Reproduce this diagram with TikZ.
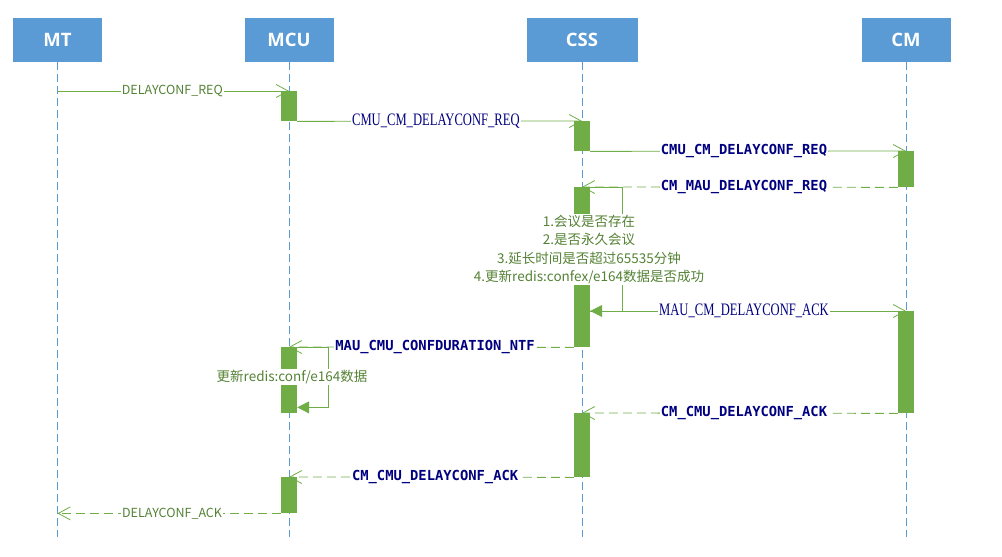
\documentclass[tikz,border=0pt]{standalone}
\usepackage{fontspec}
\usetikzlibrary{arrows.meta,calc}
\setmainfont{Open Sans}
\newfontfamily\cjk{Noto Sans CJK SC}
\newfontfamily\msgserif[FakeStretch=0.72]{Liberation Serif}
\newfontfamily\msgmono{DejaVu Sans Mono}
\definecolor{headblue}{HTML}{5B9BD5}
\definecolor{actgreen}{HTML}{70AD47}
\definecolor{txtgreen}{HTML}{548235}
\definecolor{msgnavy}{RGB}{0,0,128}
\pgfdeclarelayer{bg}
\pgfsetlayers{bg,main}
\begin{document}
\begin{tikzpicture}[x=1pt,y=-1pt,
  head/.style={fill=headblue, text=white, font=\fontsize{18.5}{20}\selectfont\bfseries,
    minimum height=44pt, inner sep=0pt},
  life/.style={draw=headblue, line width=0.9pt, dash pattern=on 8pt off 4pt},
  act/.style={fill=actgreen, draw=none, minimum width=16pt, inner sep=0pt, anchor=north},
  msg/.style={draw=actgreen, line width=0.8pt, -{Straight Barb[length=12pt,width=13pt]}},
  ret/.style={msg, dash pattern=on 9pt off 5pt},
  selfloop/.style={draw=actgreen, line width=0.8pt, -{Triangle[length=12pt,width=12pt]}},
  lblg/.style={fill=white, inner sep=1pt, text=txtgreen, font=\cjk\fontsize{12.5}{15}\selectfont},
  lbls/.style={fill=white, inner sep=1pt, text=msgnavy, font=\msgserif\fontsize{17.5}{18}\selectfont},
  lblb/.style={fill=white, inner sep=1pt, text=msgnavy, font=\msgmono\bfseries\fontsize{13.8}{15}\selectfont},
  note/.style={fill=white, inner sep=1pt, text=txtgreen, align=center,
    font=\cjk\fontsize{13.5}{18.4}\selectfont}
]
\useasboundingbox (0,0) rectangle (1002,557);

% heads
\node[head, minimum width=89pt]  (MT)  at (57.5,40) {MT};
\node[head, minimum width=89pt]  (MCU) at (289,40) {MCU};
\node[head, minimum width=111pt] (CSS) at (582,40) {CSS};
\node[head, minimum width=89pt]  (CM)  at (906,40) {CM};
\coordinate (bottom) at (0,537);

% activation boxes
\node[act, minimum height=30pt]  (mcuA1) at (289,91)  {};
\node[act, minimum height=30pt]  (cssA1) at (582,121) {};
\node[act, minimum height=36pt]  (cmA1)  at (906,151) {};
\node[act, minimum height=160pt] (cssA2) at (582,187) {};
\node[act, minimum height=102pt] (cmA2)  at (906,311) {};
\node[act, minimum height=66pt]  (mcuA2) at (289,347) {};
\node[act, minimum height=64pt]  (cssA3) at (582,413) {};
\node[act, minimum height=36pt]  (mcuA3) at (289,477) {};

\begin{pgfonlayer}{bg}
% lifelines
\draw[life] (MT.south)  -- (MT.south |- bottom);
\draw[life] (MCU.south) -- (MCU.south |- bottom);
\draw[life] (CSS.south) -- (CSS.south |- bottom);
\draw[life] (CM.south)  -- (CM.south |- bottom);

% messages
\draw[msg] (MT.south |- mcuA1.north) -- (mcuA1.north)
  node[pos=0.496, lblg] {DELAYCONF\_REQ};
\draw[msg] (mcuA1.south east) -- (cssA1.north)
  node[pos=0.487, lbls] {CMU\_CM\_DELAYCONF\_REQ};
\draw[msg] (cssA1.south east) -- (cmA1.north)
  node[pos=0.487, lblb] {CMU\_CM\_DELAYCONF\_REQ};
\draw[ret] (cmA1.south west) -- (cssA2.north)
  node[pos=0.487, lblb] {CM\_MAU\_DELAYCONF\_REQ};
\draw[selfloop] (cssA2.north east) -- ++(32,0) |- (cssA2.east |- cmA2.north);
\draw[msg] (cssA2.east |- cmA2.north) -- (cmA2.north)
  node[pos=0.487, lbls] {MAU\_CM\_DELAYCONF\_ACK};
\draw[ret] (cssA2.south west) -- (mcuA2.north)
  node[pos=0.487, lblb] {MAU\_CMU\_CONFDURATION\_NTF};
\draw[selfloop] (mcuA2.north east) -- ++(31,0) |- ([yshift=6pt]mcuA2.south east);
\draw[ret] (cmA2.south west) -- (cssA3.north)
  node[pos=0.487, lblb] {CM\_CMU\_DELAYCONF\_ACK};
\draw[ret] (cssA3.south west) -- (mcuA3.north)
  node[pos=0.487, lblb] {CM\_CMU\_DELAYCONF\_ACK};
\draw[ret] (mcuA3.south west) -- (MT.south |- mcuA3.south)
  node[pos=0.487, lblg] {DELAYCONF\_ACK};
\end{pgfonlayer}

% self-loop notes
\node[note] (cssnote) at (589,249.5) {1.会议是否存在\\2.是否永久会议\\3.延长时间是否超过65535分钟\\4.更新redis:confex/e164数据是否成功};
\node[note] (mcunote) at (292,377) {更新redis:conf/e164数据};
\end{tikzpicture}
\end{document}
